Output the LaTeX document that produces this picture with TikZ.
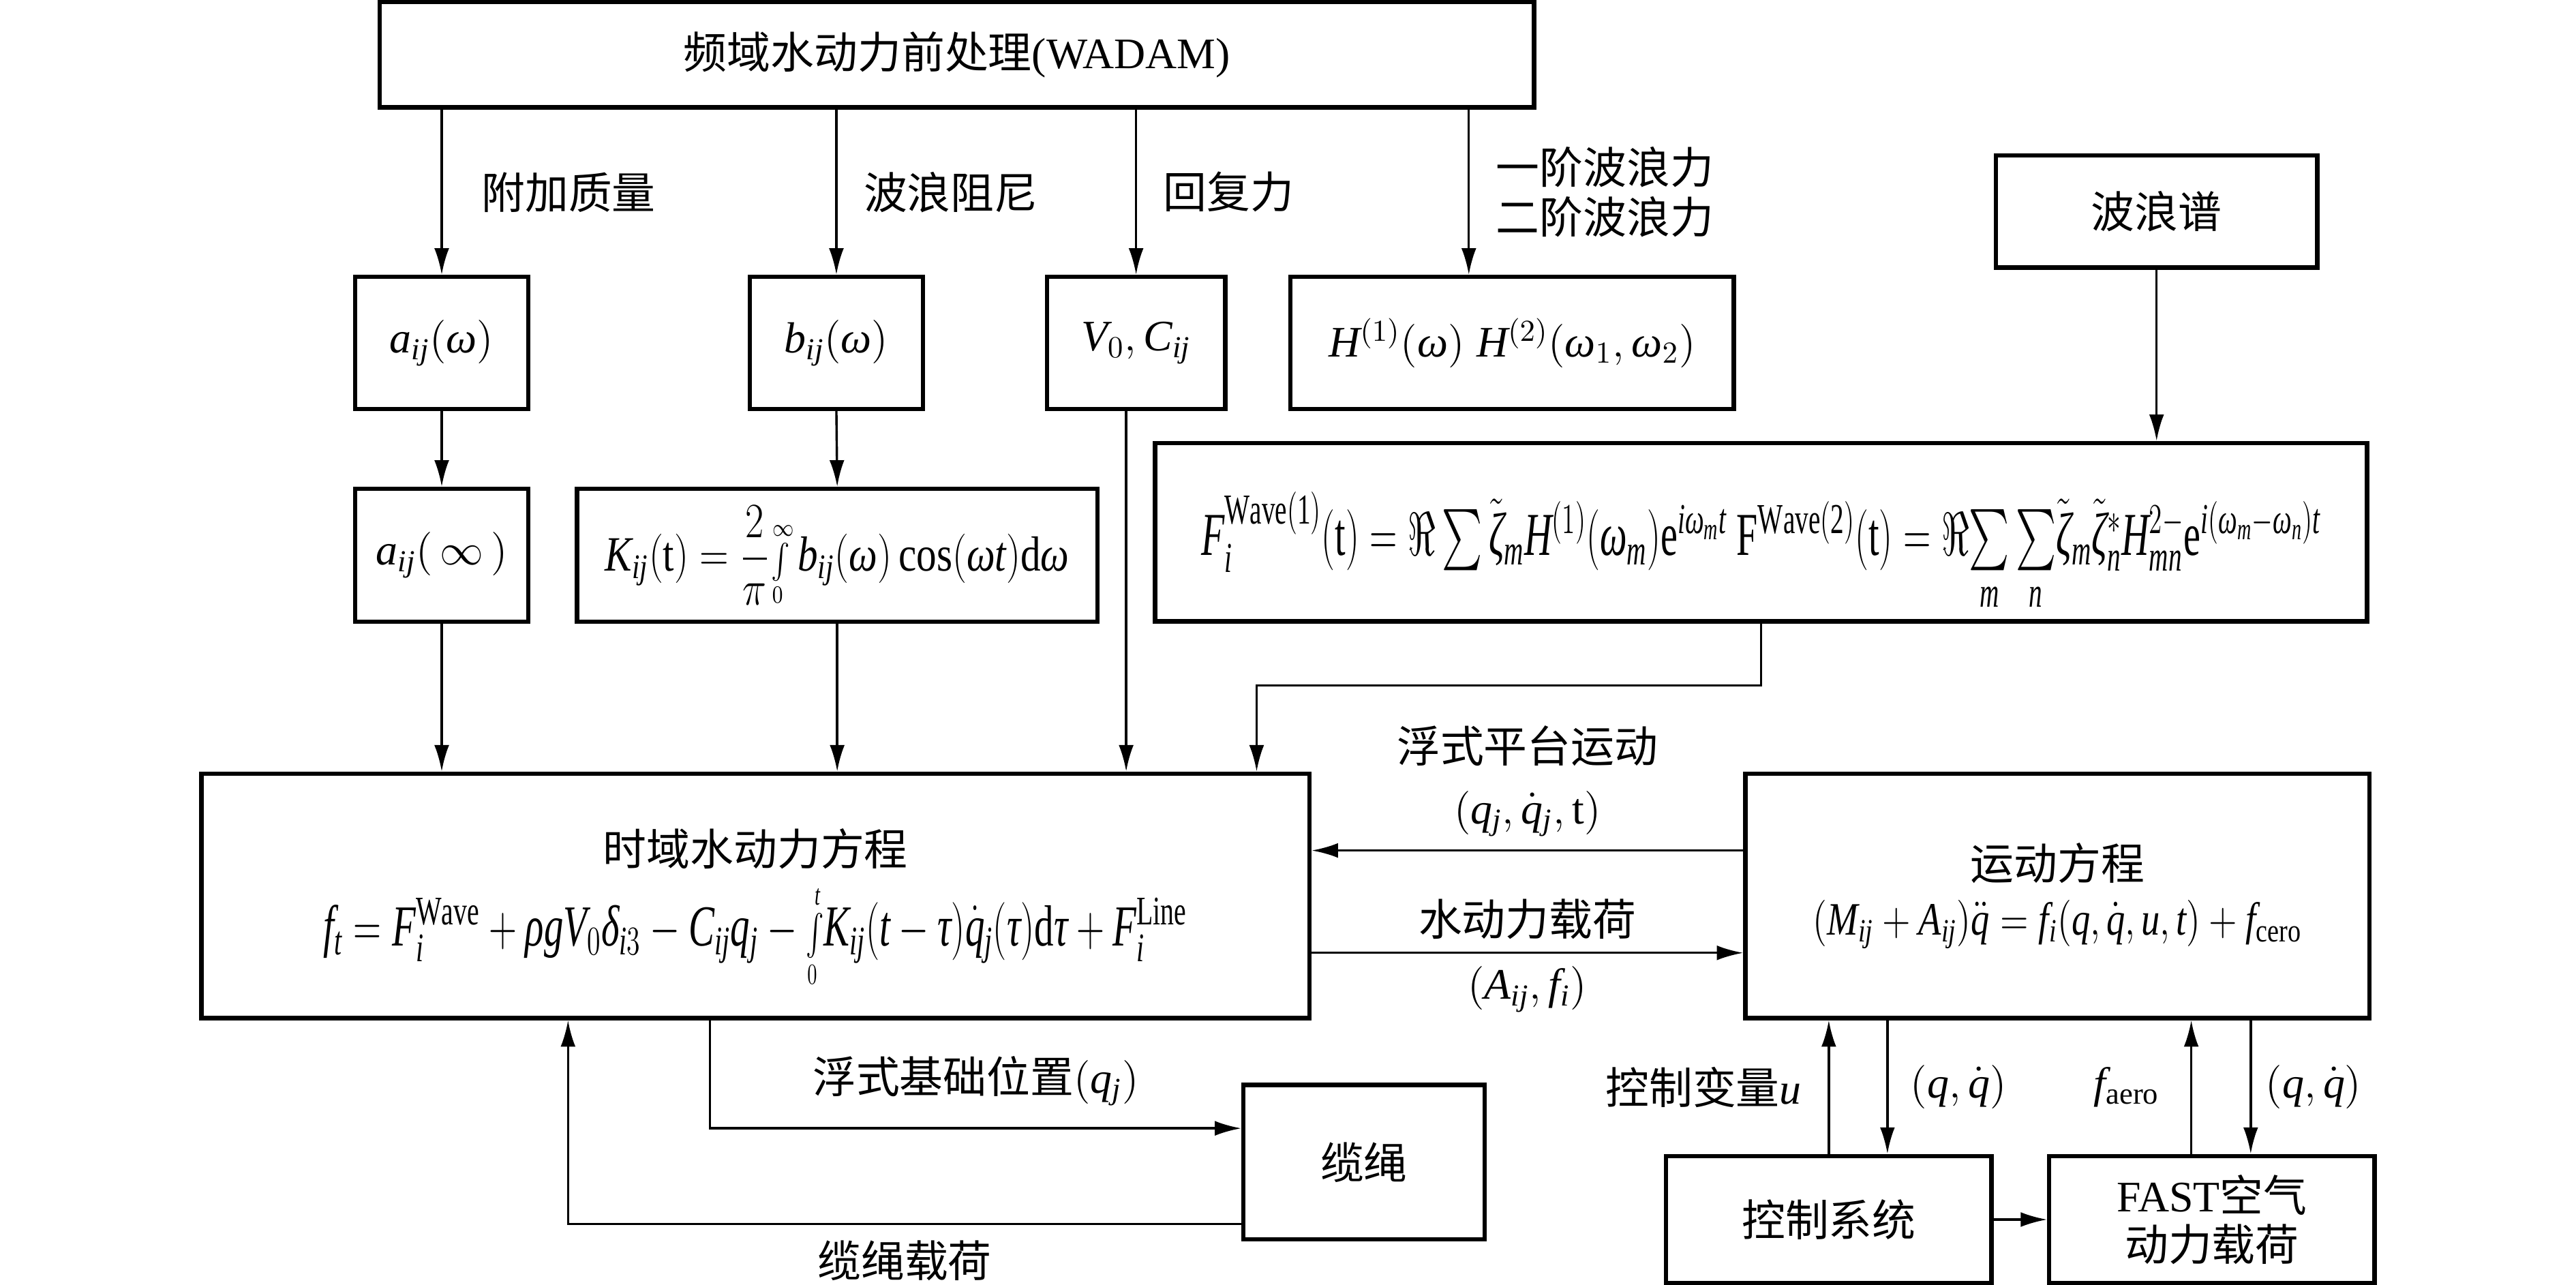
\RequirePackage{fix-cm}
\documentclass[tikz,border=0pt]{standalone}
\usepackage{amsmath,amssymb}
\usepackage{fontspec}
\setmainfont{Liberation Serif}
\newfontfamily\cjk{Noto Sans CJK SC}
\newfontfamily\libser[NFSSFamily=libser]{Liberation Serif}
\DeclareSymbolFont{tletters}{TU}{libser}{m}{it}
\DeclareSymbolFont{troman}{TU}{libser}{m}{n}
\def\setmathlet#1{\ifx#1\relax\else\Umathcode`#1="7 \symtletters`#1\relax\expandafter\setmathlet\fi}
\def\setmathdig#1{\ifx#1\relax\else\Umathcode`#1="0 \symtroman`#1\relax\expandafter\setmathdig\fi}
\setmathlet abcdefghijklmnopqrstuvwxyzABCDEFGHIJKLMNOPQRSTUVWXYZ\relax
\setmathdig 0123456789\relax
\Umathchardef\omega="0 \symtletters "03C9\relax
\Umathchardef\rho="0 \symtletters "03C1\relax
\Umathchardef\delta="0 \symtletters "03B4\relax
\Umathchardef\tau="0 \symtletters "03C4\relax
\Umathchardef\zeta="0 \symtletters "03B6\relax
\usetikzlibrary{arrows.meta,positioning}
\newcommand{\zh}[1]{{\cjk #1}}
\newcommand{\eqfit}[3]{\resizebox{#1}{\height}{\fontsize{#2}{#2}\selectfont #3}}

\begin{document}
\begin{tikzpicture}[x=1cm,y=-1cm,
	every node/.style={font=\fontsize{15}{17}\selectfont},
	box/.style={draw,line width=1.5pt,align=center,inner sep=2pt},
	arr/.style={line width=0.8pt,-{Latex[length=3.2mm,width=1.8mm]}}]
	\useasboundingbox (0,0) rectangle (31.2,15.562);
	\node[box,minimum width=13.98cm,minimum height=1.28cm] (pre) at (11.59,0.66) {\zh{频域水动力前处理}(WADAM)};
	\node[box,minimum width=2.1cm,minimum height=1.6cm] (aw) at (5.35,4.153) {$a_{ij}(\omega)$};
	\node[box,minimum width=2.1cm,minimum height=1.6cm] (bw) at (10.13,4.153) {$b_{ij}(\omega)$};
	\node[box,minimum width=2.16cm,minimum height=1.6cm] (vc) at (13.76,4.153) {$V_0,C_{ij}$};
	\node[box,minimum width=5.37cm,minimum height=1.6cm] (hw) at (18.315,4.153) {$H^{(1)}(\omega)\;H^{(2)}(\omega_1,\omega_2)$};
	\node[box,minimum width=3.89cm,minimum height=1.36cm] (spec) at (26.12,2.56) {\zh{波浪谱}};
	\node[box,minimum width=2.1cm,minimum height=1.61cm] (ai) at (5.35,6.725) {$a_{ij}(\,\infty\,)$};
	\node[box,minimum width=6.3cm,minimum height=1.61cm] (kt) at (10.14,6.725) {\eqfit{5.62cm}{17}{$K_{ij}(\mathrm{t})=\dfrac{2}{\pi}\smash{{\scriptstyle\int\limits_0^{\infty}}}\,b_{ij}(\omega)\cos(\omega t)\mathrm{d}\omega$}};
	\node[box,minimum width=14.68cm,minimum height=2.16cm] (fw) at (21.33,6.446) {\eqfit{13.56cm}{21}{$F_i^{\mathrm{Wave(1)}}(\mathrm{t})=\Re\sum\tilde{\zeta}_mH^{(1)}(\omega_m)\mathrm{e}^{i\omega_mt}$ $\mathrm{F}^{\mathrm{Wave(2)}}(\mathrm{t})=\Re\smash[b]{\sum\limits_m\sum\limits_n}\tilde{\zeta}_m\tilde{\zeta}_n^{*}H_{mn}^{2-}\mathrm{e}^{i(\omega_m-\omega_n)t}$}};
	\node[box,minimum width=13.42cm,minimum height=2.96cm] (td) at (9.15,10.85) {\zh{时域水动力方程}\\[9pt]\eqfit{10.46cm}{20}{$f_t=F_i^{\mathrm{Wave}}+\rho gV_0\delta_{i3}-C_{ij}q_j-\smash{{\scriptstyle\int\limits_0^t}}K_{ij}(t-\tau)\dot{q}_j(\tau)\mathrm{d}\tau+F_i^{\mathrm{Line}}$}};
	\node[box,minimum width=7.56cm,minimum height=2.96cm] (mo) at (24.92,10.85) {\zh{运动方程}\\[2pt]\eqfit{5.92cm}{16}{$(M_{ij}+A_{ij})\ddot{q}=f_i(q,\dot{q},u,t)+f_{\mathrm{cero}}$}};
	\node[box,minimum width=2.92cm,minimum height=1.87cm] (cable) at (16.52,14.075) {\zh{缆绳}};
	\node[box,minimum width=3.94cm,minimum height=1.54cm] (ctrl) at (22.15,14.77) {\zh{控制系统}};
	\node[box,minimum width=3.94cm,minimum height=1.54cm] (fast) at (26.79,14.77) {FAST\zh{空气}\\\zh{动力载荷}};
	\draw[arr] (pre.south -| aw.north) -- (aw.north) node[midway,right=0.35cm] {\zh{附加质量}};
	\draw[arr] (pre.south -| bw.north) -- (bw.north) node[midway,right=0.2cm] {\zh{波浪阻尼}};
	\draw[arr] (pre.south -| vc.north) -- (vc.north) node[midway,right=0.2cm] {\zh{回复力}};
	\draw[arr] ([xshift=-0.525cm]hw.north |- pre.south) -- ([xshift=-0.525cm]hw.north) node[midway,right=0.2cm,align=center] {\zh{一阶波浪力}\\\zh{二阶波浪力}};
	\draw[arr] (aw.south) -- (ai.north);
	\draw[arr] (bw.south) -- (kt.north);
	\draw[arr] (spec.south) -- (spec.south |- fw.north);
	\draw[arr] (ai.south) -- (ai.south |- td.north);
	\draw[arr] (kt.south) -- (kt.south |- td.north);
	\draw[arr] ([xshift=-0.12cm]vc.south) -- ([xshift=-0.12cm]vc.south |- td.north);
	\coordinate (fbend) at (15.22,8.3);
	\draw[arr] (fw.south) |- (fbend) -- (fbend |- td.north);
	\draw[arr] ([yshift=0.55cm]mo.west) -- ([yshift=0.55cm]td.east) node[midway,above=1pt,align=center] {\zh{浮式平台运动}\\[4pt]$(q_j,\dot{q}_j,\mathrm{t})$};
	\draw[arr] ([yshift=-0.69cm]td.east) -- ([yshift=-0.69cm]mo.west) node[midway,above=1pt] {\zh{水动力载荷}} node[midway,below=1pt] {$(A_{ij},f_i)$};
	\draw[arr] ([xshift=-0.55cm]td.south) |- ([yshift=0.41cm]cable.west) node[pos=0.75,above=4pt] {\zh{浮式基础位置}$(q_j)$};
	\draw[arr] ([yshift=-0.75cm]cable.west) -| ([xshift=-2.27cm]td.south) node[pos=0.25,below=2pt] {\zh{缆绳载荷}};
	\draw[arr] (ctrl.north) -- (ctrl.north |- mo.south) node[midway,left=0.2cm] {\zh{控制变量}$u$};
	\draw[arr] ([xshift=0.71cm]ctrl.north |- mo.south) -- ([xshift=0.71cm]ctrl.north) node[midway,right=0.15cm] {$(q,\dot{q})$};
	\draw[arr] ([xshift=-0.25cm]fast.north) -- ([xshift=-0.25cm]fast.north |- mo.south) node[midway,left=0.25cm] {$f_{\mathrm{aero}}$};
	\draw[arr] ([xshift=0.47cm]fast.north |- mo.south) -- ([xshift=0.47cm]fast.north) node[midway,right=0.05cm] {$(q,\dot{q})$};
	\draw[arr] (ctrl) -- (fast);
\end{tikzpicture}
\end{document}
